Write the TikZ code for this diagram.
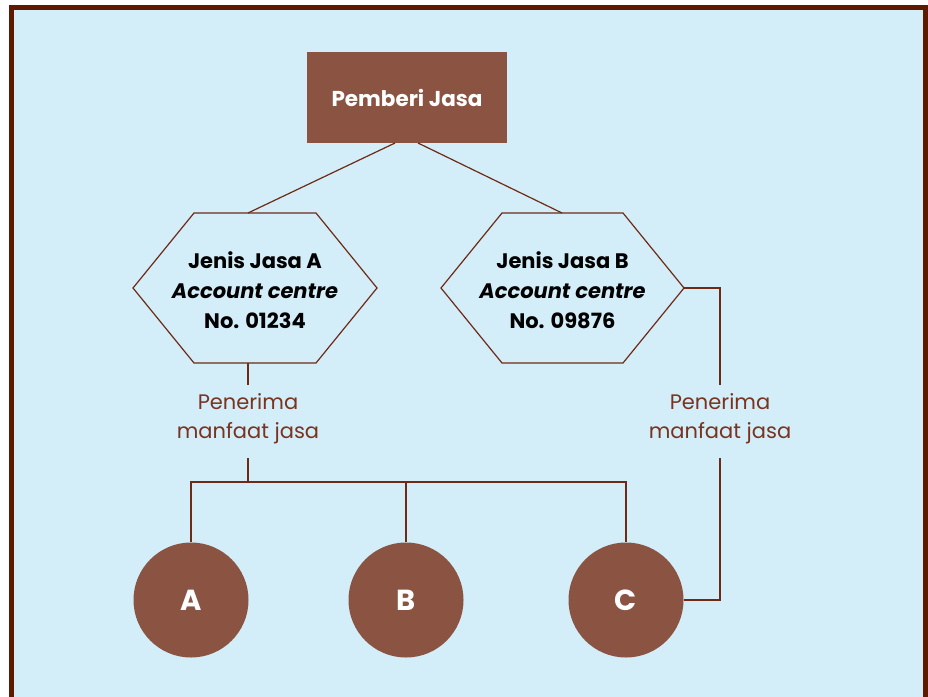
\documentclass[tikz,border=0pt]{standalone}
\usepackage{fontspec}
\setmainfont{Poppins}
\usetikzlibrary{calc}
\definecolor{bgblue}{HTML}{D3EEF8}
\definecolor{framec}{HTML}{5E1A00}
\definecolor{boxc}{HTML}{8B5442}
\definecolor{linec}{HTML}{6E2A14}
\definecolor{labc}{HTML}{7A3320}
\tikzset{
  conn/.style={draw=linec, line width=1.2pt},
  topbox/.style={fill=boxc, minimum width=200pt, minimum height=91pt, inner sep=0pt, text=white, font=\fontsize{21.5}{25}\selectfont\bfseries},
  hextext/.style={align=center, inner sep=0pt, font=\fontsize{21}{30}\selectfont\bfseries, text=black},
  hexline/.style={draw=linec, line width=1.2pt, line join=miter},
  lab/.style={align=center, inner sep=0pt, text=labc, font=\fontsize{21}{29}\selectfont},
  circ/.style={circle, fill=boxc, minimum size=115pt, inner sep=0pt, text=white, font=\fontsize{29}{32}\selectfont\bfseries}
}
\begin{document}
\begin{tikzpicture}[x=1pt,y=-1pt]
\useasboundingbox (0,0) rectangle (928,696);
\fill[bgblue] (11.5,7.5) rectangle (925.5,710);
\draw[framec, line width=5pt] (11.5,710) -- (11.5,7.5) -- (925.5,7.5) -- (925.5,710);
% top box
\node[topbox] (pj) at (407,97.5) {Pemberi Jasa};
% hexagons
\node[hextext] (ha) at (255,290) {Jenis Jasa A\\\textit{Account centre}\\No. 01234};
\node[hextext] (hb) at (562.5,290) {Jenis Jasa B\\\textit{Account centre}\\No. 09876};
\coordinate (haT) at (248,213); \coordinate (haB) at (248,363);
\coordinate (hbR) at (684,288);
\coordinate (hbT) at (562,213);
\draw[hexline] (133,288) -- (194,213) -- (316,213) -- (377,288) -- (316,363) -- (194,363) -- cycle;
\draw[hexline] (441,288) -- (502,213) -- (623,213) -- (684,288) -- (623,363) -- (502,363) -- cycle;
% labels
\node[lab] (la) at (248,419) {Penerima\\manfaat jasa};
\node[lab] (lb) at (720,419) {Penerima\\manfaat jasa};
% circles
\node[circ] (ca) at (191,600) {A};
\node[circ] (cb) at (406,600) {B};
\node[circ] (cc) at (626,600) {C};
% connectors
\coordinate (pjA) at (395,143); \coordinate (pjB) at (418,143);
\draw[conn] (pjA) -- (haT);
\draw[conn] (pjB) -- (hbT);
\coordinate (laT) at (248,385); \coordinate (laB) at (248,458);
\coordinate (bus) at (248,482);
\draw[conn] (haB) -- (laT);
\draw[conn] (laB) -- (bus);
\draw[conn] (ca.north) -- (191,482) -- (626,482) -- (cc.north);
\draw[conn] (cb.north) -- (406,482);
\coordinate (lbT) at (720,385); \coordinate (lbB) at (720,458);
\draw[conn] (hbR) -- (720,288) -- (lbT);
\draw[conn] (lbB) -- (lbB |- cc.east) -- (cc.east);
\end{tikzpicture}
\end{document}
